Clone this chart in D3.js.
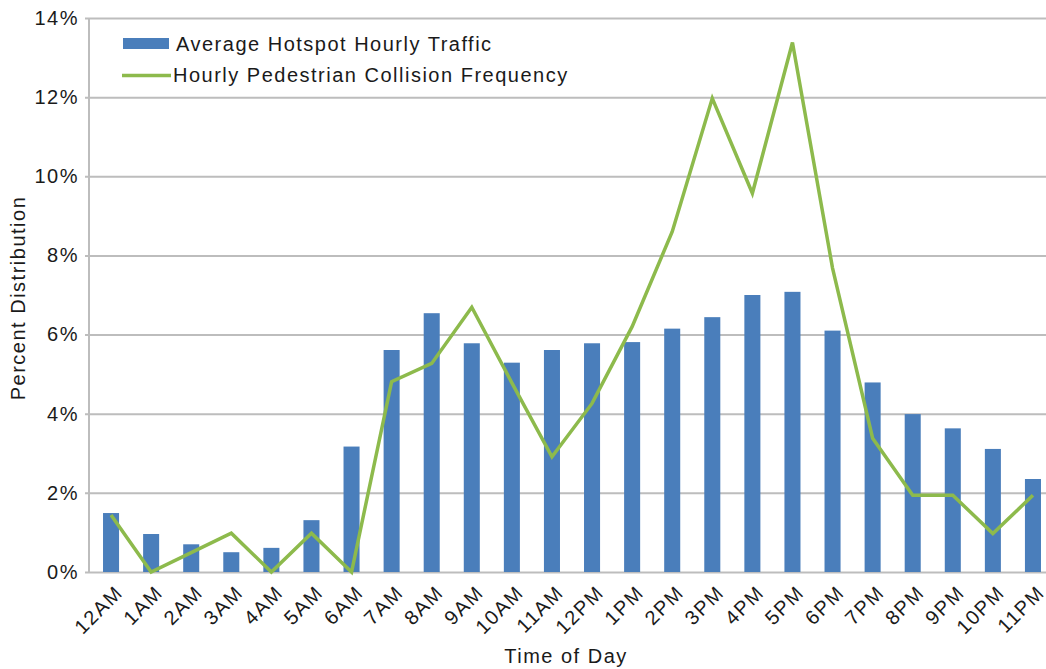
<!DOCTYPE html>
<html>
<head>
<meta charset="utf-8">
<script src="https://cdnjs.cloudflare.com/ajax/libs/d3/7.8.5/d3.min.js"></script>
<style>
  body { margin: 0; background: #fff; }
  svg { display: block; font-family: "Liberation Sans", Arial, sans-serif; }
  svg text { letter-spacing: 1.5px; }
</style>
</head>
<body>
<div id="chart"></div>
<script>
// Data
//==========================
var hours = ["12AM", "1AM", "2AM", "3AM", "4AM", "5AM", "6AM", "7AM", "8AM", "9AM", "10AM", "11AM",
  "12PM", "1PM", "2PM", "3PM", "4PM", "5PM", "6PM", "7PM", "8PM", "9PM", "10PM", "11PM"];

// Average Hotspot Hourly Traffic (%)
var traffic = [1.49, 0.96, 0.70, 0.50, 0.61, 1.31, 3.17, 5.61, 6.54, 5.78, 5.29, 5.61,
  5.78, 5.81, 6.15, 6.44, 7.00, 7.08, 6.10, 4.79, 3.99, 3.63, 3.11, 2.35];

// Hourly Pedestrian Collision Frequency (%)
var collisions = [1.44, 0.0, 0.49, 0.98, 0.0, 0.98, 0.0, 4.81, 5.27, 6.69, 4.78, 2.91,
  4.26, 6.2, 8.6, 11.97, 9.57, 13.38, 7.68, 3.38, 1.94, 1.94, 0.97, 1.94];

var yTicks = [0, 2, 4, 6, 8, 10, 12, 14];

// Set up the chart
//=================
var svgWidth = 1046;
var svgHeight = 669;

var margin = { top: 18, right: -7, bottom: 97, left: 89 };
var width = svgWidth - margin.left - margin.right;
var height = svgHeight - margin.top - margin.bottom;

var textColor = "#1a1a1a";
var fontSize = "20px";

var svg = d3.select("#chart")
  .append("svg")
  .attr("width", svgWidth)
  .attr("height", svgHeight);

var chartGroup = svg.append("g")
  .attr("transform", `translate(${margin.left}, ${margin.top})`);

// scales
var xScale = d3.scaleBand()
  .domain(hours)
  .range([2, width])
  .paddingInner(0.6)
  .paddingOuter(0.3);

var yScale = d3.scaleLinear()
  .domain([0, 14])
  .range([height, 0]);

// gridlines + y axis labels
var leftAxis = d3.axisLeft(yScale)
  .tickValues(yTicks)
  .tickSize(-width - 4)
  .tickPadding(10)
  .tickFormat(d => d + "%");

var yAxis = chartGroup.append("g")
  .call(leftAxis);

yAxis.select(".domain").remove();
yAxis.selectAll(".tick line")
  .attr("x1", -4)
  .attr("stroke", "#bdbdbd")
  .attr("stroke-width", 2);
yAxis.selectAll(".tick text")
  .attr("font-size", fontSize)
  .attr("fill", textColor)
  .attr("font-family", "Liberation Sans, Arial, sans-serif");

// left axis line
chartGroup.append("line")
  .attr("x1", 0)
  .attr("x2", 0)
  .attr("y1", 0)
  .attr("y2", height)
  .attr("stroke", "#bdbdbd")
  .attr("stroke-width", 2);

// bars
chartGroup.selectAll(".bar")
  .data(traffic)
  .enter()
  .append("rect")
  .attr("class", "bar")
  .attr("x", (d, i) => xScale(hours[i]))
  .attr("y", d => yScale(d))
  .attr("width", xScale.bandwidth())
  .attr("height", d => height - yScale(d))
  .attr("fill", "#4a7ebb");

// line
var line = d3.line()
  .x((d, i) => xScale(hours[i]) + xScale.bandwidth() / 2)
  .y(d => yScale(d));

chartGroup.append("path")
  .datum(collisions)
  .attr("d", line)
  .attr("fill", "none")
  .attr("stroke", "#8dba4c")
  .attr("stroke-width", 3.5)
  .attr("stroke-linejoin", "miter");

// x axis labels
var bottomAxis = d3.axisBottom(xScale).tickSize(0).tickPadding(0);

var xAxis = chartGroup.append("g")
  .attr("transform", `translate(0, ${height})`)
  .call(bottomAxis);

xAxis.select(".domain").remove();
xAxis.selectAll(".tick text")
  .attr("font-size", fontSize)
  .attr("fill", textColor)
  .attr("font-family", "Liberation Sans, Arial, sans-serif")
  .attr("text-anchor", "end")
  .attr("dy", "0.35em")
  .attr("transform", "translate(8,17) rotate(-45)");

// axes titles
svg.append("text")
  .attr("x", 566)
  .attr("y", 663)
  .attr("text-anchor", "middle")
  .attr("font-size", fontSize)
  .attr("fill", textColor)
  .text("Time of Day");

svg.append("text")
  .attr("transform", "rotate(-90)")
  .attr("x", -298)
  .attr("y", 25)
  .attr("text-anchor", "middle")
  .attr("font-size", fontSize)
  .attr("fill", textColor)
  .text("Percent Distribution");

// legend
var legend = svg.append("g");

legend.append("rect")
  .attr("x", 123)
  .attr("y", 38)
  .attr("width", 46)
  .attr("height", 11)
  .attr("fill", "#4a7ebb");

legend.append("text")
  .attr("x", 176)
  .attr("y", 51)
  .attr("font-size", fontSize)
  .attr("fill", textColor)
  .text("Average Hotspot Hourly Traffic");

legend.append("line")
  .attr("x1", 122)
  .attr("x2", 171)
  .attr("y1", 75.5)
  .attr("y2", 75.5)
  .attr("stroke", "#8dba4c")
  .attr("stroke-width", 3.5);

legend.append("text")
  .attr("x", 173)
  .attr("y", 82)
  .attr("font-size", fontSize)
  .attr("fill", textColor)
  .text("Hourly Pedestrian Collision Frequency");
</script>
</body>
</html>
